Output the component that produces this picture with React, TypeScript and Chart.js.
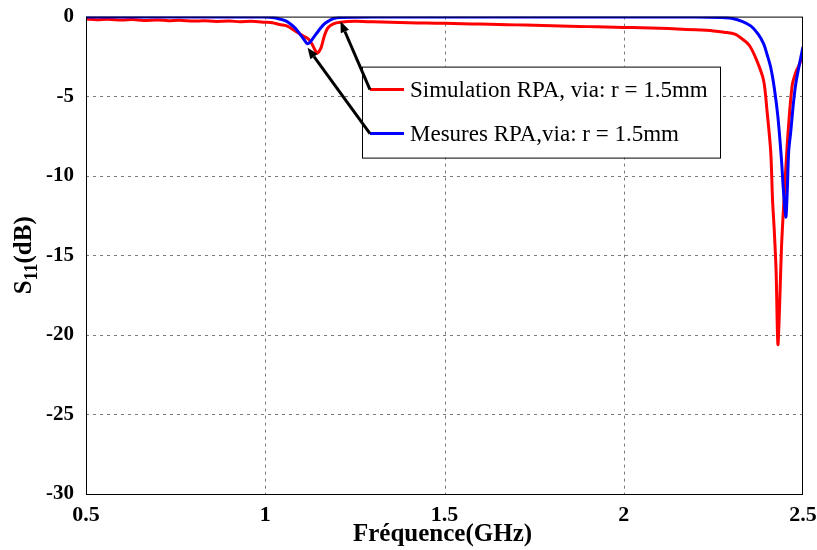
import React, { useEffect, useRef } from "react";
import { Chart, registerables } from "chart.js";

Chart.register(...registerables);

const seriesLabels = ["Simulation RPA, via: r = 1.5mm", "Mesures RPA,via: r = 1.5mm"];
const seriesColors = ["#ff0000", "#0000ff"];

const simFreq = [
  0.5, 0.53, 0.56, 0.6, 0.63, 0.66, 0.7, 0.73, 0.76, 0.8, 0.83, 0.86, 0.9, 0.93, 0.96, 1.0,
  1.02, 1.04, 1.06, 1.08, 1.1, 1.12, 1.13, 1.14, 1.145, 1.155, 1.165, 1.175, 1.19, 1.21, 1.25,
  1.3, 1.35, 1.4, 1.45, 1.5, 1.55, 1.6, 1.65, 1.7, 1.75, 1.8, 1.85, 1.9, 1.95, 2.0, 2.05, 2.1,
  2.15, 2.2, 2.25, 2.28, 2.31, 2.33, 2.35, 2.37, 2.39, 2.4, 2.41, 2.415, 2.42, 2.425, 2.43,
  2.435, 2.44, 2.447, 2.458, 2.47, 2.48, 2.49, 2.5,
];
const simS11 = [
  -0.15, -0.2, -0.17, -0.22, -0.19, -0.24, -0.21, -0.26, -0.23, -0.28, -0.26, -0.3, -0.28, -0.32, -0.3, -0.35,
  -0.38, -0.5, -0.58, -0.85, -1.15, -1.4, -1.7, -2.15, -2.3, -2.0, -1.2, -0.7, -0.45, -0.35, -0.3,
  -0.33, -0.36, -0.38, -0.41, -0.42, -0.45, -0.47, -0.5, -0.52, -0.55, -0.58, -0.6, -0.63, -0.65, -0.68, -0.7, -0.73,
  -0.78, -0.83, -0.9, -0.98, -1.1, -1.4, -1.8, -2.7, -4.0, -6.0, -8.5, -11.5, -13.5, -16.0, -20.6,
  -18.0, -14.5, -11.5, -7.4, -4.3, -3.5, -3.0, -2.4,
];

const measFreq = [
  0.5, 0.7, 0.9, 1.0, 1.02, 1.04, 1.06, 1.08, 1.09, 1.1, 1.11, 1.117, 1.125, 1.135, 1.145,
  1.155, 1.165, 1.175, 1.19, 1.21, 1.3, 1.6, 2.0, 2.2, 2.27, 2.3, 2.33, 2.355, 2.375, 2.39,
  2.4, 2.41, 2.42, 2.43, 2.44, 2.445, 2.452, 2.456, 2.46, 2.466, 2.473, 2.48, 2.49, 2.5,
];
const measS11 = [
  -0.02, -0.03, -0.03, -0.02, -0.05, -0.15, -0.3, -0.65, -0.9, -1.2, -1.5, -1.7, -1.6, -1.3, -1.0,
  -0.7, -0.45, -0.3, -0.12, -0.05, -0.02, -0.02, -0.02, -0.02, -0.05, -0.1, -0.3, -0.6, -1.1, -1.7,
  -2.4, -3.2, -4.5, -6.3, -9.0, -10.8, -12.6, -11.0, -8.5, -7.2, -5.5, -4.2, -3.0, -1.9,
];

const xTicks = [0.5, 1, 1.5, 2, 2.5];
const yTicks = [0, -5, -10, -15, -20, -25, -30];

// arrow targets (data coords) for the two annotations
const arrowTargetsX = [1.21, 1.118];
const arrowTargetsY = [-0.3, -1.95];

const xTitle = "Fréquence(GHz)";
const yTitleMain = "S";
const yTitleSub = "11";
const yTitleRest = "(dB)";

const FONT = "'Liberation Serif', 'Times New Roman', serif";

function drawArrow(ctx: CanvasRenderingContext2D, x1: number, y1: number, x2: number, y2: number) {
  const ang = Math.atan2(y2 - y1, x2 - x1);
  const hl = 11;
  const hw = 4.5;
  const bx = x2 - hl * Math.cos(ang);
  const by = y2 - hl * Math.sin(ang);
  ctx.save();
  ctx.strokeStyle = "#000";
  ctx.fillStyle = "#000";
  ctx.lineWidth = 3;
  ctx.beginPath();
  ctx.moveTo(x1, y1);
  ctx.lineTo(bx, by);
  ctx.stroke();
  ctx.beginPath();
  ctx.moveTo(x2, y2);
  ctx.lineTo(bx + hw * Math.sin(ang), by - hw * Math.cos(ang));
  ctx.lineTo(bx - hw * Math.sin(ang), by + hw * Math.cos(ang));
  ctx.closePath();
  ctx.fill();
  ctx.restore();
}

const gridPlugin = {
  id: "dottedGrid",
  beforeDatasetsDraw(chart: any) {
    const { ctx, chartArea, scales } = chart;
    const { left, right, top, bottom } = chartArea;
    ctx.save();
    ctx.strokeStyle = "#7a7a7a";
    ctx.lineWidth = 1;
    ctx.setLineDash([3, 4]);
    for (const v of xTicks) {
      const px = Math.round(scales.x.getPixelForValue(v)) + 0.5;
      if (px <= left + 1 || px >= right - 1) continue;
      ctx.beginPath();
      ctx.moveTo(px, top);
      ctx.lineTo(px, bottom);
      ctx.stroke();
    }
    for (const v of yTicks) {
      const py = Math.round(scales.y.getPixelForValue(v)) + 0.5;
      if (py <= top + 1 || py >= bottom - 1) continue;
      ctx.beginPath();
      ctx.moveTo(left, py);
      ctx.lineTo(right, py);
      ctx.stroke();
    }
    ctx.restore();
  },
};

const decorPlugin = {
  id: "decor",
  afterDraw(chart: any) {
    const { ctx, chartArea, scales } = chart;
    const { left, right, top, bottom } = chartArea;
    ctx.save();
    // plot box
    ctx.strokeStyle = "#000";
    ctx.lineWidth = 1;
    ctx.strokeRect(left + 0.5, top + 0.5, right - left - 1, bottom - top);

    // legend box
    const lx = left + 276;
    const ly = top + 50;
    const lw = 358;
    const lh = 91;
    ctx.fillStyle = "#fff";
    ctx.fillRect(lx, ly, lw, lh);
    ctx.strokeStyle = "#000";
    ctx.lineWidth = 1;
    ctx.strokeRect(lx + 0.5, ly + 0.5, lw, lh);
    const rows = [ly + 23, ly + 67];
    ctx.font = `23px ${FONT}`;
    ctx.textBaseline = "middle";
    ctx.textAlign = "left";
    for (let i = 0; i < seriesLabels.length; i++) {
      ctx.strokeStyle = seriesColors[i];
      ctx.lineWidth = 3;
      ctx.beginPath();
      ctx.moveTo(lx + 8, rows[i]);
      ctx.lineTo(lx + 42, rows[i]);
      ctx.stroke();
      ctx.fillStyle = "#000";
      ctx.fillText(seriesLabels[i], lx + 48, rows[i] + 1);
    }
    // arrows
    for (let i = 0; i < arrowTargetsX.length; i++) {
      const tx = scales.x.getPixelForValue(arrowTargetsX[i]);
      const ty = scales.y.getPixelForValue(arrowTargetsY[i]);
      drawArrow(ctx, lx + 8, rows[i], tx, ty);
    }

    // x title
    ctx.fillStyle = "#000";
    ctx.font = `bold 25px ${FONT}`;
    ctx.textAlign = "center";
    ctx.textBaseline = "alphabetic";
    ctx.fillText(xTitle, (left + right) / 2 - 2, 541);

    // y title with subscript
    ctx.save();
    ctx.translate(31, (top + bottom) / 2);
    ctx.rotate(-Math.PI / 2);
    const fMain = `bold 25px ${FONT}`;
    const fSub = `bold 18px ${FONT}`;
    ctx.font = fMain;
    const w1 = ctx.measureText(yTitleMain).width;
    const w3 = ctx.measureText(yTitleRest).width;
    ctx.font = fSub;
    const w2 = ctx.measureText(yTitleSub).width;
    let x0 = -(w1 + w2 + w3) / 2;
    ctx.textAlign = "left";
    ctx.font = fMain;
    ctx.fillText(yTitleMain, x0, 0);
    x0 += w1;
    ctx.font = fSub;
    ctx.fillText(yTitleSub, x0, 6);
    x0 += w2;
    ctx.font = fMain;
    ctx.fillText(yTitleRest, x0, 0);
    ctx.restore();

    ctx.restore();
  },
};

export default function App() {
  const ref = useRef<HTMLCanvasElement>(null);
  useEffect(() => {
    if (!ref.current) return;
    const chart = new Chart(ref.current, {
      type: "scatter",
      data: {
        datasets: [
          {
            label: seriesLabels[0],
            data: simFreq.map((f, i) => ({ x: f, y: simS11[i] })),
            borderColor: seriesColors[0],
            backgroundColor: seriesColors[0],
            borderWidth: 3,
            showLine: true,
            pointRadius: 0,
            tension: 0.3,
            order: 1,
          },
          {
            label: seriesLabels[1],
            data: measFreq.map((f, i) => ({ x: f, y: measS11[i] })),
            borderColor: seriesColors[1],
            backgroundColor: seriesColors[1],
            borderWidth: 3,
            showLine: true,
            pointRadius: 0,
            tension: 0.3,
            order: 0,
          },
        ],
      },
      options: {
        responsive: false,
        animation: false,
        layout: { padding: { top: 16, right: 14, left: 0, bottom: 0 } },
        plugins: { legend: { display: false }, tooltip: { enabled: false } },
        scales: {
          x: {
            type: "linear",
            min: 0.5,
            max: 2.5,
            afterBuildTicks: (s: any) => {
              s.ticks = xTicks.map((v) => ({ value: v }));
            },
            ticks: {
              padding: 0,
              color: "#000",
              font: { family: FONT, size: 22, weight: "bold" },
              callback: (v: any) => String(Number(v)),
            },
            grid: { display: false },
            border: { display: false },
            afterFit: (s: any) => {
              s.height = 56;
            },
          },
          y: {
            type: "linear",
            min: -30,
            max: 0,
            afterBuildTicks: (s: any) => {
              s.ticks = yTicks.map((v) => ({ value: v }));
            },
            ticks: {
              padding: 4,
              color: "#000",
              font: { family: FONT, size: 21, weight: "bold" },
              callback: (v: any) => String(Number(v)),
            },
            grid: { display: false },
            border: { display: false },
            afterFit: (s: any) => {
              s.width = 86;
            },
          },
        },
      },
      plugins: [gridPlugin, decorPlugin],
    });
    return () => chart.destroy();
  }, []);
  return (
    <div style={{ position: "absolute", left: 0, top: 0, width: 817, height: 550, background: "#fff" }}>
      <canvas ref={ref} width={817} height={550} />
    </div>
  );
}
